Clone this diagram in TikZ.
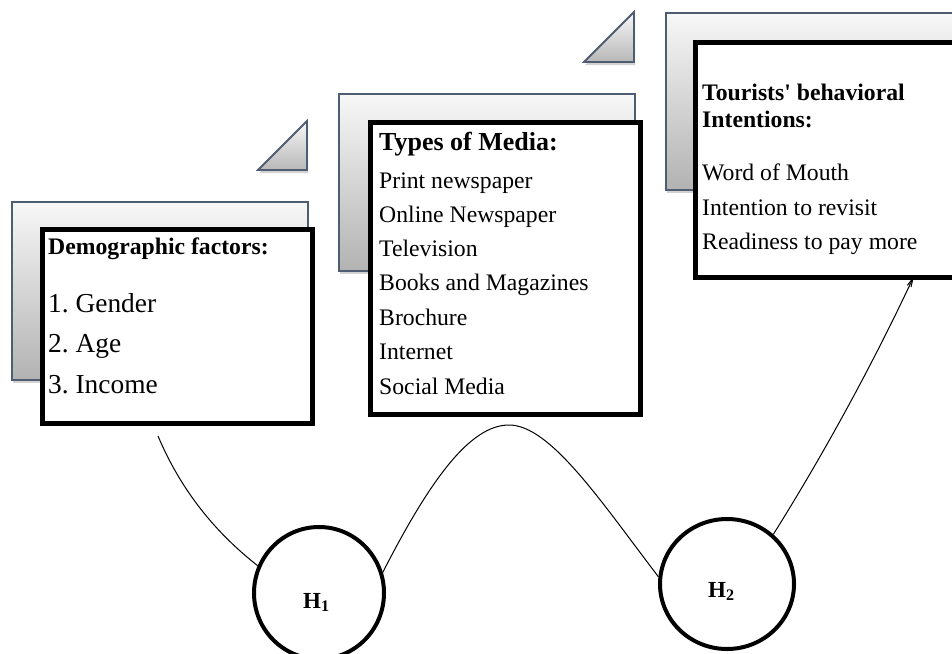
\documentclass[tikz,border=0pt]{standalone}
\usepackage{fontspec}
\setmainfont{Liberation Serif}
\usetikzlibrary{shadows,arrows.meta,shapes.geometric}
\definecolor{slate}{RGB}{79,93,115}
\begin{document}
\begin{tikzpicture}[x=1pt,y=-1pt,
  back/.style={draw=slate, line width=1.8pt, rectangle, anchor=north west, inner sep=0pt,
    top color=white!97!black, bottom color=black!30,
    drop shadow={opacity=0.35, shadow xshift=1pt, shadow yshift=-3pt}},
  tri/.style={draw=slate, line width=1.8pt, top color=white!97!black, bottom color=black!28,
    drop shadow={opacity=0.35, shadow xshift=1pt, shadow yshift=-3pt}},
  card/.style={draw=black, line width=4.5pt, fill=white, rectangle, anchor=north west, inner sep=0pt},
  txt/.style={anchor=base west, inner sep=0pt, font=\fontsize{23.7}{28}\selectfont},
  btxt/.style={anchor=base west, inner sep=0pt, font=\fontsize{23.7}{28}\selectfont\bfseries},
  bigtxt/.style={anchor=base west, inner sep=0pt, font=\fontsize{27.4}{32}\selectfont},
  hyp/.style={draw=black, line width=4pt, ellipse, fill=white, inner sep=0pt},
  hlab/.style={anchor=base west, inner sep=0pt, font=\fontsize{23}{27}\selectfont\bfseries},
  link/.style={draw=black, line width=1pt}
]
\useasboundingbox[fill=white] (0,0) rectangle (952,653);

% triangles
\draw[tri] (258,170) -- (307,121) -- (307,170) -- cycle;
\draw[tri] (584,62) -- (634,12) -- (634,62) -- cycle;

% background cards
\node[back, minimum width=296pt, minimum height=178pt] (g1) at (11,201) {};
\node[back, minimum width=296pt, minimum height=177pt] (g2) at (338,93) {};
\node[back, minimum width=300pt, minimum height=177pt] (g3) at (665,12) {};

% front cards
\node[card, minimum width=270pt, minimum height=194pt] (b1) at (40,227) {};
\node[card, minimum width=270pt, minimum height=292pt] (b2) at (368,120) {};
\node[card, minimum width=290pt, minimum height=235pt] (b3) at (693,40) {};

% texts card 1
\node[btxt] (t1h) at (48,254) {Demographic factors:};
\node[bigtxt] (t1a) at (48,312) {1.\ Gender};
\node[bigtxt] (t1b) at (48,352) {2.\ Age};
\node[bigtxt] (t1c) at (48,393) {3.\ Income};

% texts card 2
\node[btxt, font=\fontsize{26}{30}\selectfont\bfseries] (t2h) at (379,150) {Types of Media:};
\node[txt] (t2a) at (379,188) {Print newspaper};
\node[txt] (t2b) at (379,222) {Online Newspaper};
\node[txt] (t2c) at (379,256) {Television};
\node[txt] (t2d) at (379,290) {Books and Magazines};
\node[txt] (t2e) at (379,325) {Brochure};
\node[txt] (t2f) at (379,359) {Internet};
\node[txt] (t2g) at (379,394) {Social Media};

% texts card 3
\node[btxt] (t3h1) at (702,100) {Tourists\textquotesingle\ behavioral};
\node[btxt] (t3h2) at (702,127) {Intentions:};
\node[txt] (t3a) at (702,180) {Word of Mouth};
\node[txt] (t3b) at (702,215) {Intention to revisit};
\node[txt] (t3c) at (702,249) {Readiness to pay more};

% hypotheses
\node[hyp, minimum width=130pt, minimum height=132pt] (h1) at (319,593) {};
\node[hyp, minimum width=134pt, minimum height=130pt] (h2) at (727,584) {};
\node[hlab] (h1l) at (303,608) {H\textsubscript{1}};
\node[hlab] (h2l) at (708,597) {H\textsubscript{2}};

% connectors
\coordinate (s1) at (158,436);
\coordinate (peak) at (509,425);
\coordinate (e3) at (914,276);
\draw[link] (s1) .. controls (185,500) and (225,540) .. (h1.156);
\draw[link] (h1.18) .. controls (430,480) and (470,425) .. (peak)
  .. controls (550,425) and (600,500) .. (h2.174);
\draw[link, -{Straight Barb[length=9pt,width=4pt]}] (h2.47) .. controls (820,460) and (870,370) .. (e3);
\end{tikzpicture}
\end{document}
